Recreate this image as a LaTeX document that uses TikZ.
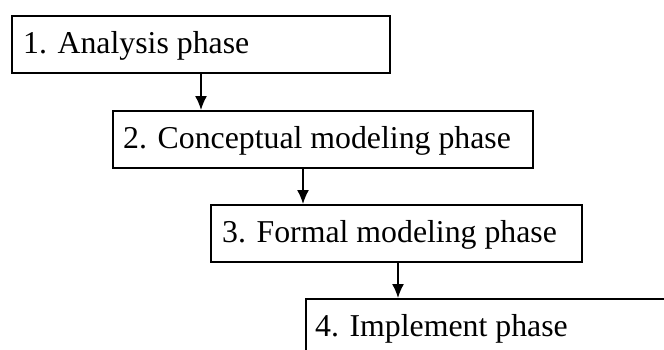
\documentclass[tikz,border=0pt]{standalone}
\usepackage{fontspec}
\setmainfont{Liberation Serif}
\usetikzlibrary{arrows.meta,calc}
\begin{document}
\begin{tikzpicture}[x=1pt,y=-1pt,
  phasebox/.style={draw, line width=1.7pt, rectangle, anchor=north west,
    minimum height=57pt, inner sep=0pt},
  phasetext/.style={anchor=base west, inner sep=0pt,
    font=\fontsize{31.8}{36}\selectfont},
  flow/.style={-{Latex[length=14pt,width=12pt]}, line width=1.5pt}]
  \useasboundingbox (0,0) rectangle (664,349);
  \clip (0,0) rectangle (664,349);
  \fill[white] (0,0) rectangle (664,349);

  % the four phases, stepped down and to the right
  \node[phasebox, minimum width=378pt] (p1) at (11,15)  {};
  \node[phasebox, minimum width=420pt] (p2) at (112,110) {};
  \node[phasebox, minimum width=371pt] (p3) at (210,204) {};
  \node[phasebox, minimum width=400pt] (p4) at (305,298) {};

  \node[phasetext] (t1) at ($(p1.west)+(12,9)$) {1. Analysis phase};
  \node[phasetext] (t2) at ($(p2.west)+(11,9)$) {2. Conceptual modeling phase};
  \node[phasetext] (t3) at ($(p3.west)+(12,9)$) {3. Formal modeling phase};
  \node[phasetext] (t4) at ($(p4.west)+(10,9)$) {4. Implement phase};

  % connectors leave each box about 190pt from its left edge
  \coordinate (a1) at ($(p1.south west)+(190,0)$);
  \coordinate (a2) at ($(p2.south west)+(191,0)$);
  \coordinate (a3) at ($(p3.south west)+(188,0)$);
  \draw[flow] (a1) -- (a1 |- p2.north);
  \draw[flow] (a2) -- (a2 |- p3.north);
  \draw[flow] (a3) -- (a3 |- p4.north);
\end{tikzpicture}
\end{document}
